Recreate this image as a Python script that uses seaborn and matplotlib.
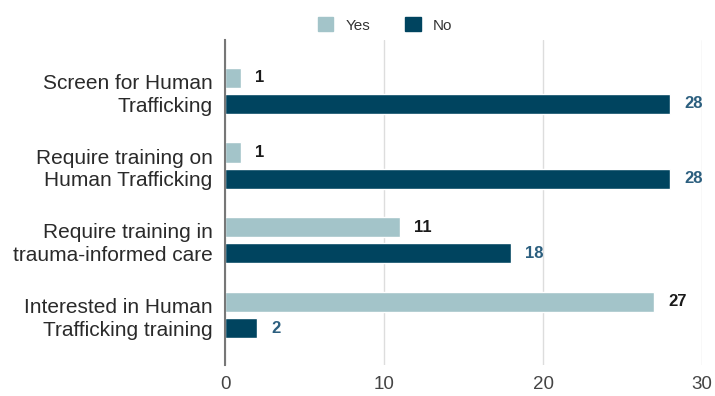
import matplotlib
matplotlib.use("Agg")
import matplotlib.pyplot as plt
import seaborn as sns
import pandas as pd

categories = [
    "Screen for Human\nTrafficking",
    "Require training on\nHuman Trafficking",
    "Require training in\ntrauma-informed care",
    "Interested in Human\nTrafficking training",
]
yes_values = [1, 1, 11, 27]
no_values = [28, 28, 18, 2]
series = ["Yes", "No"]
x_ticks = [0, 10, 20, 30]

colors = {"Yes": "#a3c4c9", "No": "#00445f"}
label_colors = {"Yes": "#1a1a1a", "No": "#2c5f7f"}

df = pd.DataFrame({
    "category": categories * 2,
    "value": yes_values + no_values,
    "answer": ["Yes"] * len(categories) + ["No"] * len(categories),
})

sns.set_theme(style="white")
plt.rcParams["font.family"] = ["Liberation Sans", "DejaVu Sans"]

fig = plt.figure(figsize=(7.15, 3.96), dpi=100)
ax = fig.add_axes([0.315, 0.078, 0.667, 0.821])

sns.barplot(data=df, y="category", x="value", hue="answer", order=categories,
            hue_order=series, palette=colors, saturation=1, orient="h",
            width=0.7, gap=0.23, ax=ax, legend=False)

ax.set_xlim(0, 30)
ax.set_ylim(3.67, -0.68)
ax.set_xticks(x_ticks)
ax.set_xticklabels([str(t) for t in x_ticks], fontsize=13.5, color="#444444")
ax.tick_params(axis="y", labelsize=15, colors="#2a2a2a", length=0, pad=9)
ax.tick_params(axis="x", length=0, pad=8)
ax.set_xlabel("")
ax.set_ylabel("")
for t in ax.get_yticklabels():
    t.set_horizontalalignment("right")
    t.set_linespacing(1.25)

ax.grid(axis="x", color="#dddddd", linewidth=1)
ax.set_axisbelow(True)
for s in ["top", "right", "bottom"]:
    ax.spines[s].set_visible(False)
ax.spines["left"].set_color("#777777")
ax.spines["left"].set_linewidth(1.5)

for container, name in zip(ax.containers, series):
    ax.bar_label(container, labels=[str(int(v)) for v in container.datavalues],
                 padding=10, fontsize=12, fontweight="bold",
                 color=label_colors[name])

handles = [plt.Rectangle((0, 0), 1, 1, color=colors[s]) for s in series]
fig.legend(handles, series, loc="center", bbox_to_anchor=(385 / 715, 1 - 25 / 396),
           ncol=2, frameon=False, fontsize=11, handlelength=1.0, handleheight=1.0,
           columnspacing=2.3, handletextpad=0.8, labelcolor="#333333")

fig.savefig("out.png", dpi=100)
